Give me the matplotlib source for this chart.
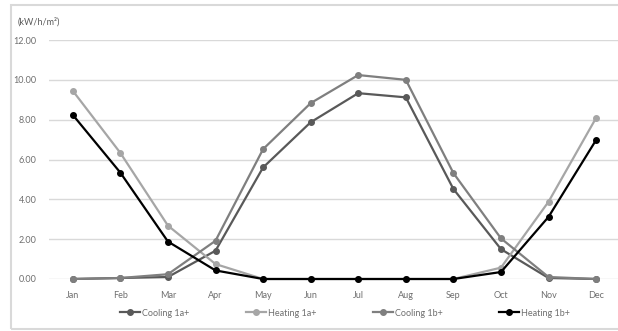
import matplotlib
matplotlib.use("Agg")
import matplotlib.pyplot as plt
from matplotlib.patches import Rectangle

months = ["Jan", "Feb", "Mar", "Apr", "May", "Jun", "Jul", "Aug", "Sep", "Oct", "Nov", "Dec"]
cooling_1a = [0.0, 0.05, 0.1, 1.42, 5.6, 7.87, 9.33, 9.12, 4.52, 1.5, 0.05, 0.0]
heating_1a = [9.45, 6.33, 2.68, 0.75, 0.0, 0.0, 0.0, 0.0, 0.0, 0.57, 3.88, 8.09]
cooling_1b = [0.0, 0.05, 0.24, 1.92, 6.52, 8.83, 10.24, 10.0, 5.32, 2.04, 0.1, 0.0]
heating_1b = [8.24, 5.34, 1.88, 0.43, 0.0, 0.0, 0.0, 0.0, 0.0, 0.35, 3.12, 6.98]
yticks = [0, 2, 4, 6, 8, 10, 12]
unit_label = "(kW/h/m²)"

series = [
    ("Cooling 1a+", cooling_1a, "#595959"),
    ("Heating 1a+", heating_1a, "#a6a6a6"),
    ("Cooling 1b+", cooling_1b, "#7f7f7f"),
    ("Heating 1b+", heating_1b, "#000000"),
]

plt.rcParams['font.family'] = ['Lato', 'DejaVu Sans']

W, H = 618, 331
fig = plt.figure(figsize=(W / 100, H / 100), dpi=100)
fig.patch.set_facecolor("white")

# outer border
fig.patches.append(Rectangle((11 / W, 1 - 329 / H), 1.0, (329 - 5) / H,
                             transform=fig.transFigure, fill=False,
                             edgecolor="#d9d9d9", linewidth=1.5))

left, right = 49 / W, 1.0
bottom, top = 1 - 279 / H, 1 - 40 / H
ax = fig.add_axes([left, bottom, right - left, top - bottom])
x = list(range(len(months)))
for name, vals, col in series:
    ax.plot(x, vals, color=col, linewidth=1.6, marker="o", markersize=4,
            label=name, clip_on=False, zorder=3)

ax.set_xlim(-0.5, 11.46)
ax.set_ylim(0, 12)
ax.set_yticks(yticks)
ax.set_yticklabels([f"{v:.2f}" for v in yticks])
ax.set_xticks(x)
ax.set_xticklabels(months)
ax.grid(axis="y", color="#d9d9d9", linewidth=1)
ax.set_axisbelow(True)
for s in ax.spines.values():
    s.set_visible(False)
ax.tick_params(length=0, labelsize=6.5, colors="#6f6f6f", pad=9)
ax.tick_params(axis="x", pad=9)

fig.text(18 / W, 1 - 22 / H, unit_label, fontsize=6.5, color="#595959", va="center", ha="left")

leg = fig.legend(loc="center", bbox_to_anchor=(345 / W, 1 - 313 / H), ncol=4,
                 frameon=False, fontsize=6.5, handlelength=2.2, columnspacing=6.3,
                 handletextpad=0.2)
for t in leg.get_texts():
    t.set_color("#6f6f6f")

fig.savefig("out.png", dpi=100, facecolor="white")
